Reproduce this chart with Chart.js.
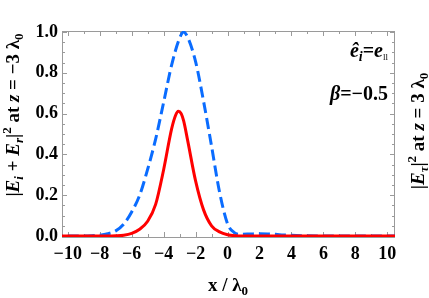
<!DOCTYPE html>
<html><head><meta charset="utf-8">
<script src="https://cdn.jsdelivr.net/npm/chart.js@4"></script>
<style>html,body{margin:0;padding:0;background:#fff;overflow:hidden}</style>
</head><body><canvas id="c" width="429" height="298"></canvas>
<script>
// ---- data ----
const xBlue = [-11, -9, -8.5, -8, -7.5, -7, -6.5, -6, -5.5, -5, -4.5, -4, -3.5, -3, -2.75, -2.5, -2, -1.5, -1, -0.5, 0, 0.4, 0.8, 1.5, 2, 2.5, 3, 3.5, 4, 5, 6, 11];
const yBlue = [0, 0, 0.001, 0.004, 0.011, 0.025, 0.058, 0.118, 0.2, 0.327, 0.475, 0.655, 0.838, 0.97, 1.0, 0.975, 0.855, 0.66, 0.44, 0.215, 0.06, 0.018, 0.008, 0.01, 0.011, 0.01, 0.008, 0.005, 0.003, 0.001, 0, 0];
const xRed = [-11, -7.5, -7, -6.5, -6, -5.5, -5, -4.5, -4, -3.5, -3.25, -3.08, -2.9, -2.75, -2.5, -2, -1.5, -1, -0.5, 0, 0.5, 1, 11];
const yRed = [0, 0, 0.001, 0.004, 0.013, 0.033, 0.072, 0.155, 0.325, 0.525, 0.592, 0.612, 0.6, 0.565, 0.47, 0.27, 0.128, 0.05, 0.02, 0.006, 0.001, 0, 0];
const xTickLabels = [-10, -8, -6, -4, -2, 0, 2, 4, 6, 8, 10];
const xMinorTicks = [-9, -7, -5, -3, -1, 1, 3, 5, 7, 9];
const yTickLabels = [0, 0.2, 0.4, 0.6, 0.8, 1.0];
const yMinorTicks = [0.05, 0.1, 0.15, 0.25, 0.3, 0.35, 0.45, 0.5, 0.55, 0.65, 0.7, 0.75, 0.85, 0.9, 0.95];

const FAM = '"Liberation Serif", "Times New Roman", serif';
const F = 'bold 19px ' + FAM, FI = 'italic bold 19px ' + FAM;
const FS = 'bold 13px ' + FAM, FSI = 'italic bold 13px ' + FAM;
const FA = 'bold 20px ' + FAM, FAI = 'italic bold 20px ' + FAM, FASI = 'italic bold 14px ' + FAM;

function drawRich(ctx, segs, x, y, rot, align) {
  ctx.save(); ctx.translate(x, y); ctx.rotate(rot);
  let w = 0;
  for (const s of segs) { ctx.font = s.f; w += ctx.measureText(s.t).width; }
  let cx = align === 'right' ? -w : align === 'center' ? -w / 2 : 0;
  ctx.textBaseline = 'alphabetic'; ctx.textAlign = 'left'; ctx.fillStyle = '#000';
  for (const s of segs) { ctx.font = s.f; ctx.fillText(s.t, cx, s.dy || 0); cx += ctx.measureText(s.t).width; }
  ctx.restore();
}

const framePlugin = {
  id: 'frame',
  beforeDatasetsDraw(chart) {
    const { ctx, chartArea: a, scales } = chart;
    ctx.save();
    ctx.strokeStyle = '#9a9a9a'; ctx.lineWidth = 1;
    ctx.strokeRect(a.left + 0.5, a.top + 0.5, a.right - a.left - 1, a.bottom - a.top);
    ctx.beginPath();
    const xs = scales.x, ys = scales.y;
    const tx = (v, len) => { const p = Math.round(xs.getPixelForValue(v)) + 0.5;
      ctx.moveTo(p, a.bottom); ctx.lineTo(p, a.bottom - len);
      ctx.moveTo(p, a.top); ctx.lineTo(p, a.top + len); };
    const ty = (v, len) => { const p = Math.round(ys.getPixelForValue(v)) + 0.5;
      ctx.moveTo(a.left, p); ctx.lineTo(a.left + len, p);
      ctx.moveTo(a.right, p); ctx.lineTo(a.right - len, p); };
    xTickLabels.forEach(v => tx(v, 5)); xMinorTicks.forEach(v => tx(v, 3));
    yTickLabels.forEach(v => ty(v, 5)); yMinorTicks.forEach(v => ty(v, 3));
    ctx.stroke();
    ctx.restore();
  },
  afterDraw(chart) {
    const ctx = chart.ctx;
    drawRich(ctx, [
      { t: '|', f: F }, { t: 'E', f: FI }, { t: 'i', f: FSI, dy: 4 }, { t: ' + ', f: F },
      { t: 'E', f: FI }, { t: 'r', f: FSI, dy: 4 }, { t: '|', f: F }, { t: '2', f: FS, dy: -8 },
      { t: ' at ', f: F }, { t: 'z', f: FI }, { t: ' = \u22123 ', f: F }, { t: '\u03bb', f: F }, { t: '0', f: FS, dy: 4 }
    ], 19, 115, -Math.PI / 2, 'center');
    drawRich(ctx, [
      { t: '|', f: F }, { t: 'E', f: FI }, { t: '\u03c4', f: FSI, dy: 4 }, { t: '|', f: F }, { t: '2', f: FS, dy: -8 },
      { t: ' at ', f: F }, { t: 'z', f: FI }, { t: ' = 3 ', f: F }, { t: '\u03bb', f: F }, { t: '0', f: FS, dy: 4 }
    ], 424, 131, -Math.PI / 2, 'center');
    drawRich(ctx, [{ t: 'x / \u03bb', f: F }, { t: '0', f: FS, dy: 4 }], 228, 291, 0, 'center');
    drawRich(ctx, [{ t: '\u00ea', f: FAI }, { t: 'i', f: FASI, dy: 4 }, { t: '=', f: FA }, { t: 'e', f: FAI },
      { t: 'll', f: '9px ' + FAM, dy: 3 }], 388, 57, 0, 'right');
    drawRich(ctx, [{ t: '\u03b2', f: FAI }, { t: '=\u22120.5', f: FA }], 388, 100, 0, 'right');
  }
};

const fmtX = v => v < 0 ? '\u2212' + Math.abs(v) : String(v);

new Chart(document.getElementById('c'), {
  type: 'line',
  data: {
    datasets: [
      { data: xRed.map((x, i) => ({ x, y: yRed[i] })), borderColor: '#ff0000', borderWidth: 3,
        pointRadius: 0, cubicInterpolationMode: 'monotone', fill: false, order: 1 },
      { data: xBlue.map((x, i) => ({ x, y: yBlue[i] })), borderColor: '#0a6cff', borderWidth: 3,
        borderDash: [11, 5], pointRadius: 0, cubicInterpolationMode: 'monotone', fill: false, order: 2 }
    ]
  },
  options: {
    responsive: false, animation: false, devicePixelRatio: 1,
    layout: { padding: { top: 31, right: 34, left: 0, bottom: 0 } },
    plugins: { legend: { display: false }, tooltip: { enabled: false } },
    scales: {
      x: {
        type: 'linear', position: 'bottom', min: -10.36, max: 10.48,
        afterBuildTicks: s => { s.ticks = xTickLabels.map(v => ({ value: v })); },
        afterFit: s => { s.height = 61; },
        grid: { display: false, drawTicks: false }, border: { display: false },
        ticks: { padding: 7, color: '#000', autoSkip: false, maxRotation: 0,
          font: { family: FAM, weight: 'bold', size: 18 }, callback: v => fmtX(v) }
      },
      y: {
        type: 'linear', position: 'left', min: -0.005, max: 1.005,
        afterBuildTicks: s => { s.ticks = yTickLabels.map(v => ({ value: v })); },
        afterFit: s => { s.width = 62; },
        grid: { display: false, drawTicks: false }, border: { display: false },
        ticks: { padding: 4, color: '#000', autoSkip: false,
          font: { family: FAM, weight: 'bold', size: 18 }, callback: v => Number(v).toFixed(1) }
      }
    }
  },
  plugins: [framePlugin]
});
</script></body></html>
